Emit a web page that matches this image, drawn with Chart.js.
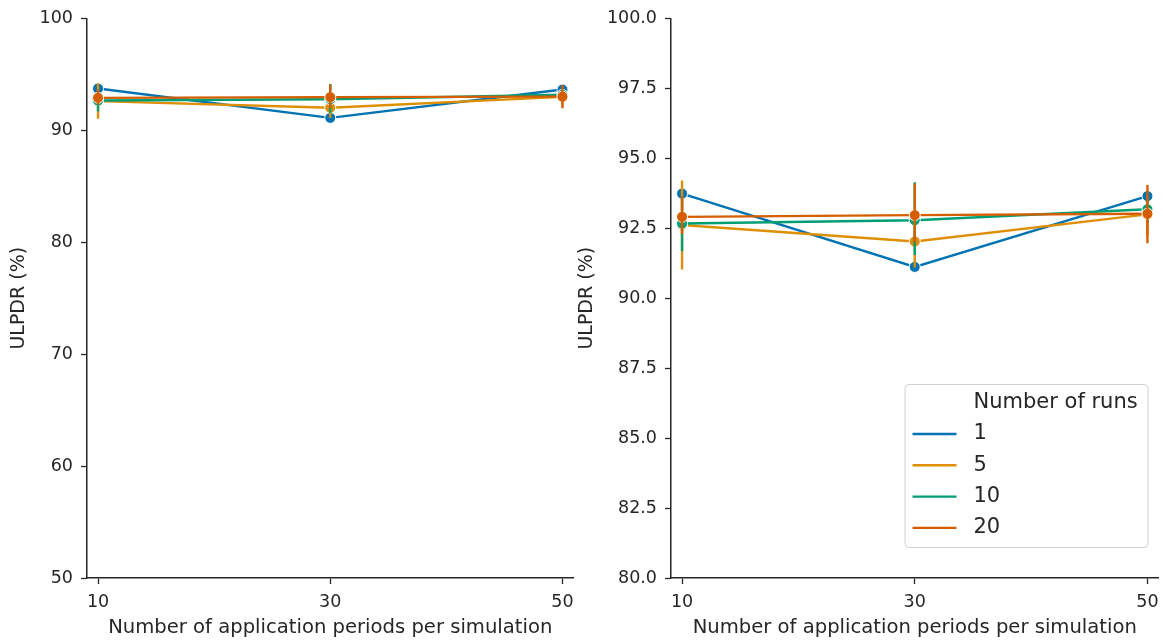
<!DOCTYPE html>
<html>
<head>
<meta charset="utf-8">
<script src="https://cdn.jsdelivr.net/npm/chart.js@4.4.1/dist/chart.umd.min.js"></script>
<style>
  html, body { margin: 0; padding: 0; background: #fff; overflow: hidden; }
  #wrap { position: relative; width: 1163px; height: 643px; overflow: hidden; }
  .box { position: absolute; top: 0; height: 643px; }
  #boxA { left: 0; width: 580px; }
  #boxB { left: 575px; width: 590px; }
</style>
</head>
<body>
<div id="wrap">
  <div class="box" id="boxA"><canvas id="chartFull"></canvas></div>
  <div class="box" id="boxB"><canvas id="chartZoom"></canvas></div>
</div>
<script>
/* =========================================================
   DATA
========================================================= */
const periods = [10, 30, 50];
const runLabels = ['1', '5', '10', '20'];
const runColors = ['#0173b2', '#de8f05', '#029e73', '#d55e00'];

// mean ULPDR (%) per number of runs
const ulpdr1  = [93.74, 91.12, 93.65];
const ulpdr5  = [92.62, 92.03, 93.00];
const ulpdr10 = [92.67, 92.79, 93.18];
const ulpdr20 = [92.91, 92.97, 93.02];

// error bars (lower / upper), 1 run has none
const low5   = [91.03, 91.10, 92.25];
const high5  = [94.21, 92.95, 93.65];
const low10  = [91.68, 91.55, 92.70];
const high10 = [93.60, 94.15, 93.65];
const low20  = [92.30, 92.00, 91.97];
const high20 = [93.65, 94.10, 94.05];

const yTicksFull = [50, 60, 70, 80, 90, 100];
const yTicksZoom = [80, 82.5, 85, 87.5, 90, 92.5, 95, 97.5, 100];

const INK = '#262626';
const FONT = "'DejaVu Sans', sans-serif";

/* =========================================================
   HELPERS
========================================================= */
function series() {
  const means = [ulpdr1, ulpdr5, ulpdr10, ulpdr20];
  const lows = [null, low5, low10, low20];
  const highs = [null, high5, high10, high20];
  return runLabels.map((r, i) => ({
    label: r,
    data: periods.map((p, j) => ({ x: p, y: means[i][j] })),
    low: lows[i],
    high: highs[i],
    borderColor: runColors[i],
    backgroundColor: runColors[i],
    pointBackgroundColor: runColors[i],
    pointBorderColor: '#ffffff',
    pointBorderWidth: 1,
    pointRadius: 5.5,
    borderWidth: 2.4,
    tension: 0,
    order: runLabels.length - 1 - i
  }));
}

// vertical error bars drawn right after each line
const errorBars = {
  id: 'errorBars',
  afterDatasetDraw(chart, args) {
    const ds = chart.data.datasets[args.index];
    if (!ds.low) return;
    const { ctx, scales: { x, y }, chartArea } = chart;
    ctx.save();
    ctx.beginPath();
    ctx.rect(chartArea.left, chartArea.top, chartArea.right - chartArea.left, chartArea.bottom - chartArea.top);
    ctx.clip();
    ctx.strokeStyle = ds.borderColor;
    ctx.lineWidth = 2.4;
    periods.forEach((p, j) => {
      const px = x.getPixelForValue(p);
      ctx.beginPath();
      ctx.moveTo(px, y.getPixelForValue(ds.low[j]));
      ctx.lineTo(px, y.getPixelForValue(ds.high[j]));
      ctx.stroke();
    });
    ctx.restore();
  }
};

// legend box in the lower right of the zoomed panel
const runsLegend = {
  id: 'runsLegend',
  afterDraw(chart) {
    const { ctx, chartArea } = chart;
    const right = chartArea.right - 11;
    const bottom = chartArea.bottom - 31;
    const w = 243, h = 163;
    const left = right - w, top = bottom - h;
    ctx.save();
    ctx.fillStyle = 'rgba(255,255,255,0.85)';
    ctx.strokeStyle = '#d0d0d0';
    ctx.lineWidth = 1;
    ctx.beginPath();
    ctx.roundRect(left + 0.5, top + 0.5, w, h, 4);
    ctx.fill();
    ctx.stroke();

    ctx.font = `21px ${FONT}`;
    ctx.fillStyle = INK;
    ctx.textBaseline = 'middle';
    const textX = left + 69;
    ctx.fillText('Number of runs', textX, top + 19);
    runLabels.forEach((r, i) => {
      const yy = top + 50 + i * 31.3;
      ctx.strokeStyle = runColors[i];
      ctx.lineWidth = 2.4;
      ctx.beginPath();
      ctx.moveTo(left + 8, yy);
      ctx.lineTo(left + 52, yy);
      ctx.stroke();
      ctx.fillText(r, textX, yy);
    });
    ctx.restore();
  }
};

function buildChart(id, yMin, yMax, yTicks, yWidth, padRight, titlePad, decimals) {
  return new Chart(document.getElementById(id), {
    type: 'line',
    data: { datasets: series() },
    plugins: [errorBars].concat(id === 'chartZoom' ? [runsLegend] : []),
    options: {
      responsive: true,
      maintainAspectRatio: false,
      animation: false,
      devicePixelRatio: 1,
      layout: { padding: { top: 17, right: padRight, left: 0, bottom: 0 } },
      plugins: { legend: { display: false }, tooltip: { enabled: false } },
      scales: {
        x: {
          type: 'linear',
          min: 9.05,
          max: 50.95,
          afterBuildTicks: s => { s.ticks = periods.map(v => ({ value: v })); },
          afterFit: s => { s.height = 65; s.paddingLeft = 0; s.paddingRight = 0; },
          border: { display: true, color: INK, width: 1.5 },
          grid: { drawOnChartArea: false, drawTicks: true, tickLength: 6, tickColor: INK, tickWidth: 1.3 },
          ticks: { color: INK, padding: 8, font: { family: FONT, size: 17.5 }, maxRotation: 0 },
          title: {
            display: true,
            text: 'Number of application periods per simulation',
            color: INK,
            font: { family: FONT, size: 19.6 },
            padding: { top: 0, bottom: 3 }
          }
        },
        y: {
          min: yMin,
          max: yMax,
          afterBuildTicks: s => { s.ticks = yTicks.map(v => ({ value: v })); },
          afterFit: s => { s.width = yWidth; },
          border: { display: true, color: INK, width: 1.5 },
          grid: { drawOnChartArea: false, drawTicks: true, tickLength: 6, tickColor: INK, tickWidth: 1.3 },
          ticks: {
            color: INK,
            padding: 8,
            font: { family: FONT, size: 17.5 },
            callback: v => v.toFixed(decimals)
          },
          title: {
            display: true,
            text: 'ULPDR (%)',
            color: INK,
            font: { family: FONT, size: 19 },
            padding: { top: titlePad - 1, bottom: 0 }
          }
        }
      }
    }
  });
}

/* =========================================================
   CHARTS
========================================================= */
buildChart('chartFull', 50, 100, yTicksFull, 87, 2, 9, 0);
buildChart('chartZoom', 80, 100, yTicksZoom, 96, 5, 2, 1);
</script>
</body>
</html>
